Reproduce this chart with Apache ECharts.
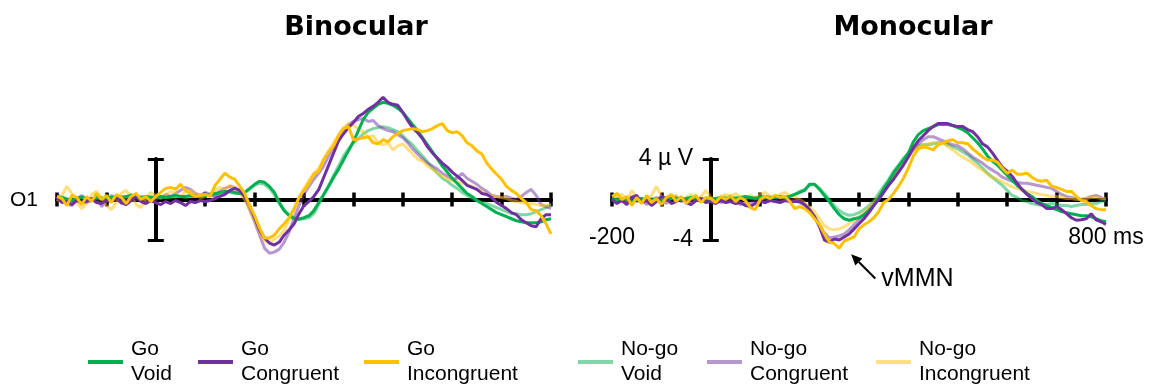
<!DOCTYPE html>
<html>
<head>
<meta charset="utf-8">
<script src="https://cdn.jsdelivr.net/npm/echarts@6/dist/echarts.min.js"></script>
<style>
html,body{margin:0;padding:0;background:#fff;}
#chart{width:1150px;height:384px;}
</style>
</head>
<body>
<div id="chart"></div>
<script>
// ---------- DATA ----------
const timeStart = -200, timeStep = 10; // ms, samples from -200 to 800
const seriesNames = ['Go\nVoid','Go\nCongruent','Go\nIncongruent','No-go\nVoid','No-go\nCongruent','No-go\nIncongruent'];
const xTickLabelsMono = {'-200':'-200','800':'800 ms'};
const yTickLabelsMono = {'4':'4 µ V','-4':'-4'};

// Binocular (µV)
const binoGoVoid = [0.1,0.2,0.0,-0.1,0.1,0.2,0.1,0.0,0.2,0.1,0.1,0.2,0.3,0.2,0.3,0.4,0.3,0.2,0.3,0.2,0.2,
 0.3,0.2,0.3,0.4,0.3,0.3,0.4,0.3,0.3,0.4,0.5,0.6,0.7,0.8,0.8,0.7,0.6,0.7,1.1,1.5,1.8,1.7,1.3,0.7,-0.3,-1.1,-1.6,-1.9,-1.95,-1.8,
 -1.6,-1.1,-0.3,0.5,1.3,2.2,3.0,3.9,4.8,5.7,6.8,7.9,8.6,9.0,9.4,9.6,9.5,9.3,9.0,8.6,
 8.0,7.4,6.8,6.1,5.4,4.7,4.0,3.3,2.7,2.1,1.6,1.1,0.6,0.3,-0.1,-0.4,-0.7,-1.0,-1.3,-1.5,
 -1.7,-1.9,-2.1,-2.2,-2.3,-2.3,-2.3,-2.2,-2.0,-1.9];
const binoGoCong = [0.2,-0.3,-0.2,-0.5,-0.1,-0.3,-0.2,0.1,-0.3,-0.4,-0.1,-0.2,0.2,-0.3,-0.5,-0.1,0.3,-0.2,-0.4,-0.1,-0.3,
 -0.5,-0.2,-0.4,-0.1,-0.3,-0.6,-0.2,-0.3,-0.1,-0.2,-0.1,0.1,0.3,0.5,0.9,1.1,0.9,0.3,-0.6,-1.8,-3.0,-3.8,-4.3,-4.5,-4.2,-3.5,-3.0,-2.4,-1.4,-0.6,
 -0.2,0.3,1.0,2.2,3.4,4.6,5.8,6.5,7.1,7.6,8.2,8.5,8.9,9.2,9.6,10.1,9.6,9.4,9.3,8.6,
 7.8,7.1,6.6,6.0,5.2,4.6,4.1,3.6,3.2,2.7,2.3,1.9,1.4,1.2,1.0,0.6,0.5,0.2,-0.3,-0.6,
 -0.9,-1.3,-1.5,-2.0,-2.3,-2.6,-2.7,-1.9,-1.5,-1.5];
const binoGoIncong = [0.3,0.1,-0.6,0.4,0.2,-0.5,0.3,-0.2,0.6,0.0,0.4,-0.3,0.5,0.2,-0.4,0.3,0.6,0.0,0.3,-0.2,0.3,
 0.7,1.1,1.2,1.0,1.5,0.9,0.6,0.3,0.4,0.5,0.3,1.4,2.0,2.6,2.2,2.0,1.3,0.6,-0.6,-1.6,-2.8,-3.8,-3.8,-3.5,-2.9,-2.4,-1.8,-0.9,0.2,0.9,
 1.6,2.5,2.8,4.0,4.7,5.3,6.3,7.0,7.2,5.9,6.0,6.1,6.2,5.6,5.5,5.9,5.7,6.2,6.5,6.8,
 6.9,7.0,6.9,6.7,6.8,7.0,7.3,7.5,6.8,6.6,6.7,6.3,5.6,5.3,4.8,4.5,3.6,3.0,2.5,2.0,
 1.3,0.9,0.6,0.1,-0.3,-1.0,-1.1,-1.6,-2.4,-3.4];
const binoNoVoid = [0.0,0.2,0.1,-0.2,0.0,0.3,0.1,-0.1,0.1,0.2,0.0,0.1,0.2,0.3,0.1,0.2,0.3,0.1,0.2,0.3,0.2,
 0.2,0.3,0.2,0.3,0.3,0.2,0.3,0.4,0.3,0.4,0.4,0.5,0.6,0.7,0.7,0.6,0.6,0.7,1.0,1.4,1.6,1.5,1.1,0.5,-0.4,-1.1,-1.5,-1.8,-1.9,-1.9,
 -1.8,-1.4,-0.5,0.5,1.4,2.4,3.3,4.3,5.0,5.6,6.0,6.5,6.8,7.0,7.1,7.2,7.1,6.9,6.7,6.3,
 5.8,5.4,4.8,4.3,3.7,3.1,2.6,2.1,1.8,1.4,1.1,0.7,0.4,0.1,-0.1,-0.3,-0.4,-0.6,-0.8,-1.0,
 -1.2,-1.4,-1.4,-1.5,-1.5,-1.4,-1.2,-1.0,-0.8,-0.5];
const binoNoCong = [0.5,0.2,-0.4,-0.6,0.1,0.4,-0.3,-0.1,0.3,-0.7,-0.2,0.4,0.1,-0.4,0.2,0.5,-0.1,0.3,-0.2,0.1,0.0,
 0.2,0.5,0.3,0.6,0.9,1.2,1.0,0.6,0.4,0.7,0.5,0.3,0.8,1.1,1.3,1.2,0.8,0.1,-1.0,-2.2,-3.5,-4.8,-5.3,-5.2,-4.9,-4.2,-3.2,-1.8,-0.6,0.5,
 1.3,2.0,2.6,3.3,4.3,5.2,6.1,6.8,7.4,7.7,7.9,8.0,7.7,7.8,7.3,7.0,6.8,6.7,6.4,6.1,
 5.6,5.0,4.5,4.0,3.6,3.3,3.0,2.6,2.3,2.0,2.1,2.6,2.1,1.8,1.5,1.1,0.8,0.4,0.3,0.2,
 0.3,0.1,0.0,0.3,0.7,1.0,0.4,-0.5,-0.7,-0.9];
const binoNoIncong = [-0.2,0.4,1.3,0.6,-0.3,-0.9,-0.4,0.5,0.8,0.2,-0.6,-1.0,-0.3,0.6,0.9,0.3,-0.5,-0.8,0.1,0.7,0.4,
 0.1,0.5,0.8,0.6,0.3,0.8,0.9,0.5,0.2,0.3,0.6,0.9,1.2,1.0,1.4,1.1,0.6,0.0,-1.0,-2.1,-3.2,-4.1,-4.3,-3.9,-3.6,-3.0,-2.0,-1.0,0.2,1.1,
 1.9,2.6,3.1,3.9,4.8,5.6,6.4,7.1,7.5,7.3,7.0,6.7,6.1,6.3,5.6,5.4,5.6,4.9,5.3,5.5,
 5.0,4.5,4.0,3.8,3.3,3.0,2.6,2.3,2.0,1.9,1.7,1.6,1.5,1.3,1.0,0.8,0.5,0.4,0.3,0.2,
 0.1,-0.1,-0.2,-0.3,-0.4,-0.4,-0.5,-0.6,-0.6,-0.5];

// Monocular (µV)
const monoGoVoid = [0.1,-0.1,0.0,0.1,-0.2,0.0,0.1,0.0,-0.1,0.1,0.0,0.1,0.2,0.1,0.0,0.1,0.2,0.1,0.0,0.1,0.0,
 0.1,0.2,0.1,0.2,0.1,0.2,0.3,0.2,0.1,0.2,0.3,0.2,0.2,0.3,0.2,0.3,0.5,0.7,0.9,1.5,1.5,1.0,0.4,-0.2,-0.9,-1.5,-1.9,-2.05,-1.9,-1.8,
 -1.5,-1.1,-0.6,0.2,1.1,1.8,2.6,3.3,3.9,4.6,5.7,6.4,6.8,7.0,7.2,7.4,7.4,7.4,7.3,7.1,
 6.9,6.6,6.1,5.6,5.0,4.3,3.8,3.4,2.9,2.4,1.9,1.4,1.0,0.6,0.3,-0.1,-0.4,-0.6,-0.8,-1.0,
 -1.2,-1.3,-1.4,-1.5,-1.6,-1.6,-1.7,-1.9,-2.1,-2.2];
const monoGoCong = [0.0,-0.4,-0.1,-0.5,0.2,0.4,-0.3,-0.1,-0.6,-0.2,0.3,0.1,-0.4,-0.2,0.2,-0.3,-0.5,-0.1,0.1,-0.3,-0.2,
 -0.4,-0.1,-0.3,-0.2,-0.4,-0.3,-0.6,-0.7,-0.4,-0.2,-0.3,-0.1,-0.2,-0.3,-0.1,-0.2,-0.2,-0.2,-0.5,-1.0,-1.7,-2.7,-4.0,-4.2,-3.9,-4.0,-3.7,-3.4,-2.9,-2.4,
 -1.9,-1.3,-0.6,0.0,0.7,1.4,2.0,2.7,3.4,4.2,5.1,5.8,6.3,6.8,7.2,7.5,7.5,7.5,7.3,7.2,
 7.2,6.9,6.7,6.2,5.5,5.2,4.6,3.9,3.2,2.8,2.3,1.6,1.0,0.5,0.1,-0.3,-0.5,-0.9,-0.9,-0.7,
 -1.0,-1.4,-1.8,-2.05,-2.0,-1.9,-1.4,-2.0,-2.2,-2.45];
const monoGoIncong = [0.3,0.6,0.0,0.3,-0.6,0.2,-0.4,0.4,-0.3,0.1,-0.5,0.2,0.5,-0.2,0.3,-0.4,0.1,0.4,-0.3,0.2,0.1,
 -0.3,0.3,0.0,0.4,-0.2,0.2,-0.1,-0.8,-1.0,0.0,0.3,0.1,0.4,0.2,0.3,-0.2,-0.9,-0.7,-0.9,-1.3,-1.9,-2.5,-3.4,-4.2,-4.35,-4.8,-4.1,-3.9,-3.7,-2.9,
 -2.5,-2.2,-1.8,-1.2,-0.3,0.0,0.6,1.3,2.1,3.1,4.3,5.0,5.2,5.1,4.9,5.4,5.6,5.8,5.9,5.6,
 5.6,5.5,5.0,4.6,4.2,3.9,3.9,3.7,3.1,2.6,2.9,2.5,2.5,2.6,2.2,1.9,1.8,1.9,1.3,1.2,
 1.0,0.8,0.8,0.3,-0.1,-0.2,-0.6,-0.9,-1.0,-1.0];
const monoNoVoid = [-0.1,0.1,0.0,-0.1,0.1,0.0,-0.1,0.0,0.1,0.0,-0.1,0.0,0.1,0.0,0.1,0.0,0.1,0.0,0.1,0.0,0.1,
 0.0,0.1,0.2,0.1,0.2,0.1,0.2,0.1,0.2,0.2,0.1,0.2,0.3,0.2,0.2,0.3,0.5,0.8,1.0,1.4,1.5,1.1,0.6,0.0,-0.6,-1.1,-1.4,-1.55,-1.5,-1.3,
 -1.0,-0.6,-0.1,0.6,1.3,2.0,2.8,3.4,4.1,4.6,4.9,5.3,5.4,5.4,5.5,5.6,5.6,5.4,5.2,5.0,
 4.7,4.4,4.0,3.6,3.1,2.6,2.2,1.8,1.4,0.9,0.4,0.2,-0.1,-0.2,-0.4,-0.5,-0.6,-0.5,-0.4,-0.5,
 -0.6,-0.6,-0.7,-0.6,-0.5,-0.5,-0.4,-0.4,-0.2,-0.1];
const monoNoCong = [0.2,-0.3,0.1,-0.4,0.3,-0.2,0.0,-0.5,-0.2,0.2,-0.1,-0.4,0.1,0.3,-0.2,0.0,-0.3,0.2,-0.1,0.1,-0.2,
 0.0,-0.3,-0.1,0.2,-0.2,-0.5,-0.3,-0.4,-0.1,0.1,-0.2,0.0,0.2,-0.1,0.1,0.0,-0.1,-0.3,-0.6,-1.1,-1.7,-2.5,-3.3,-3.8,-3.7,-3.6,-3.4,-3.0,-2.5,-2.0,
 -1.5,-1.0,-0.4,0.2,0.9,1.6,2.3,3.0,3.7,4.3,4.9,5.5,5.9,6.2,6.2,6.0,5.8,5.6,5.4,5.3,
 5.0,4.6,4.2,3.9,3.6,3.2,2.9,2.6,2.2,2.0,1.8,1.7,1.6,1.6,1.5,1.4,1.3,1.2,1.1,0.8,
 0.5,0.3,0.2,0.1,0.0,0.1,0.3,0.4,0.2,-0.1];
const monoNoIncong = [-0.2,0.3,0.5,-0.1,0.9,0.2,-0.3,0.1,0.4,1.3,0.3,-0.2,0.2,0.4,-0.1,0.2,0.5,0.0,0.3,0.9,0.2,
 0.0,0.3,0.5,0.2,0.6,0.3,0.1,0.4,0.2,0.5,0.7,0.3,0.2,0.5,0.7,0.4,0.2,0.0,-0.3,-0.8,-1.2,-1.9,-2.6,-2.9,-3.0,-2.9,-2.7,-2.4,-2.1,-1.7,
 -1.3,-0.8,-0.3,0.3,1.0,1.7,2.4,3.1,3.8,4.4,4.9,5.2,5.4,5.5,5.6,5.6,5.6,5.2,4.9,4.5,
 4.2,3.9,3.6,3.2,2.9,2.5,2.2,2.0,1.75,1.5,1.25,1.1,0.9,0.8,0.7,0.6,0.5,0.4,0.3,0.3,
 0.2,0.1,0.1,0.0,0.0,0.1,0.2,0.2,0.1,0.1];

// annotation (data coordinates in the monocular panel: tail t,µV -> head t,µV)
const vmmnArrow = [[333,-7.8,284,-5.4]];
const vmmnLabel = 'vMMN';

// ---------- STYLE ----------
const colors = ['#00B050','#7030A0','#FFC000','rgba(0,176,80,0.5)','rgba(112,48,160,0.5)','rgba(255,192,0,0.5)'];
const FONT = '"Liberation Sans", Arial, sans-serif';

function pairs(arr){ return arr.map((v,i)=>[timeStart + i*timeStep, v]); }

const panels = [
  {name:'Binocular', data:[binoGoVoid,binoGoCong,binoGoIncong,binoNoVoid,binoNoCong,binoNoIncong], left:57, labels:false},
  {name:'Monocular', data:[monoGoVoid,monoGoCong,monoGoIncong,monoNoVoid,monoNoCong,monoNoIncong], left:612, labels:true}
];

const grid=[], xAxis=[], yAxis=[], series=[];
panels.forEach((p,pi)=>{
  grid.push({left:p.left, width:494, top:159, height:81, containLabel:false});
  const xBase = {type:'value', gridIndex:pi, min:-200, max:800, interval:100, position:'bottom',
    splitLine:{show:false},
    axisLine:{onZero:true, lineStyle:{color:'#000', width:4}}};
  xAxis.push(Object.assign({}, xBase, {
    axisTick:{show:true, inside:true, length:7, lineStyle:{color:'#000', width:3.5}},
    axisLabel:{show:p.labels, margin:-14, fontSize:23, color:'#000', fontFamily:FONT,
      formatter:v=> (xTickLabelsMono[String(v)] || '')}
  }));
  xAxis.push(Object.assign({}, xBase, {
    axisLine:{show:false, onZero:true},
    axisTick:{show:true, inside:false, length:7, lineStyle:{color:'#000', width:3.5}},
    axisLabel:{show:false}
  }));
  const yBase = {type:'value', gridIndex:pi, min:-4, max:4, interval:8, position:'left',
    splitLine:{show:false},
    axisLine:{onZero:true, lineStyle:{color:'#000', width:4}}};
  yAxis.push(Object.assign({}, yBase, {
    axisTick:{show:true, inside:true, length:8, lineStyle:{color:'#000', width:3}},
    axisLabel:{show:p.labels, margin:-81, fontSize:23, color:'#000', fontFamily:FONT,
      formatter:v=> (yTickLabelsMono[String(v)] || '')}
  }));
  yAxis.push(Object.assign({}, yBase, {
    axisLine:{show:false, onZero:true},
    axisTick:{show:true, inside:false, length:8, lineStyle:{color:'#000', width:3}},
    axisLabel:{show:false}
  }));
  // no-go first (underneath), then go
  [3,4,5,0,1,2].forEach(si=>{
    series.push({
      name: seriesNames[si], type:'line', xAxisIndex:pi*2, yAxisIndex:pi*2,
      data: pairs(p.data[si]), showSymbol:false, symbol:'none', clip:false,
      color: colors[si], itemStyle:{color:colors[si]},
      lineStyle:{color:colors[si], width:3}, z: si<3 ? 4 : 3
    });
  });
});

// vMMN arrow + label, placed through the monocular axes
series.push({
  type:'custom', name:'vMMN', xAxisIndex:2, yAxisIndex:2, clip:false, silent:true, z:6,
  data: vmmnArrow,
  renderItem:(params, api)=>{
    const a = api.coord([api.value(0), api.value(1)]);
    const b = api.coord([api.value(2), api.value(3)]);
    const dx=b[0]-a[0], dy=b[1]-a[1], L=Math.hypot(dx,dy), ux=dx/L, uy=dy/L;
    const hl=11, hw=5;
    const bx=b[0]-ux*hl, by=b[1]-uy*hl;
    return {type:'group', children:[
      {type:'line', shape:{x1:a[0], y1:a[1], x2:bx, y2:by}, style:{stroke:'#000', lineWidth:2}},
      {type:'polygon', shape:{points:[[b[0],b[1]],[bx-uy*hw,by+ux*hw],[bx+uy*hw,by-ux*hw]]}, style:{fill:'#000'}},
      {type:'text', x:a[0]+6, y:a[1]+1, style:{text:vmmnLabel, font:'25px "Liberation Sans", Arial, sans-serif', fill:'#000', align:'left', verticalAlign:'middle'}}
    ]};
  }
});

const legendLefts = [88,198,364,578,707,876];
const legend = seriesNames.map((n,i)=>({
  data:[n], left:legendLefts[i], top:337, padding:0, icon:'rect', itemWidth:35, itemHeight:4,
  selectedMode:false, textStyle:{fontSize:21, lineHeight:25, color:'#000', fontFamily:FONT, padding:[0,0,0,3]}
}));

const option = {
  animation:false,
  backgroundColor:'#fff',
  grid, xAxis, yAxis, series, legend,
  graphic:[
    {type:'text', x:356, y:28, style:{text:'Binocular', font:'bold 27px "DejaVu Sans", sans-serif', fill:'#000', align:'center', verticalAlign:'middle'}},
    {type:'text', x:913, y:28, style:{text:'Monocular', font:'bold 27px "DejaVu Sans", sans-serif', fill:'#000', align:'center', verticalAlign:'middle'}},
    {type:'text', x:10, y:200, style:{text:'O1', font:'21px "Liberation Sans", Arial, sans-serif', fill:'#000', align:'left', verticalAlign:'middle'}}
  ]
};

const chart = echarts.init(document.getElementById('chart'), null, {renderer:'canvas'});
chart.setOption(option);
</script>
</body>
</html>
